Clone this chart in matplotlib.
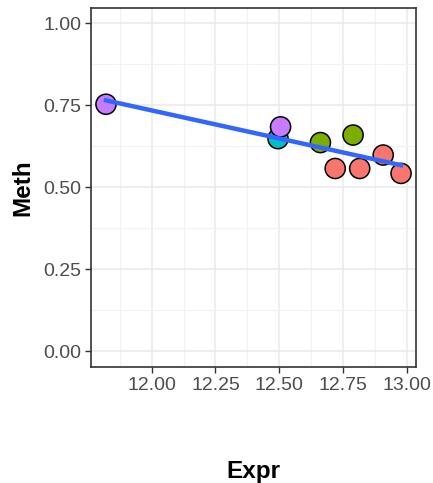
import numpy as np
import matplotlib
matplotlib.use("Agg")
import matplotlib.pyplot as plt
from matplotlib.ticker import MultipleLocator

plt.rcParams["font.family"] = ["Liberation Sans", "DejaVu Sans"]

# valores
expr = [12.495, 11.821, 12.505, 12.661, 12.789, 12.719, 12.815, 12.907, 12.977]
meth = [0.648, 0.753, 0.684, 0.636, 0.659, 0.557, 0.557, 0.598, 0.542]
group = ["c", "d", "d", "b", "b", "a", "a", "a", "a"]
palette = {"a": "#F8766D", "b": "#7CAE00", "c": "#00BFC4", "d": "#C77CFF"}

fig = plt.figure(figsize=(4.33, 4.83), dpi=100)
ax = fig.add_axes([0.21, 0.240, 0.751, 0.743])

# grade estilo theme_bw
ax.set_xlim(11.762, 13.036)
ax.set_ylim(-0.049, 1.046)
ax.xaxis.set_major_locator(MultipleLocator(0.25))
ax.xaxis.set_minor_locator(MultipleLocator(0.125))
ax.yaxis.set_major_locator(MultipleLocator(0.25))
ax.yaxis.set_minor_locator(MultipleLocator(0.125))
ax.grid(which="major", color="#EBEBEB", lw=1.2)
ax.grid(which="minor", color="#F2F2F2", lw=0.8)
ax.set_axisbelow(True)
ax.tick_params(which="minor", length=0)
ax.tick_params(which="major", length=4, width=1, color="#333333",
               labelsize=14, labelcolor="#4D4D4D", pad=3)
for s in ax.spines.values():
    s.set_color("#333333")
    s.set_linewidth(1.2)

ax.scatter(expr, meth, s=210, c=[palette[g] for g in group],
           edgecolors="black", linewidths=1.1, zorder=3)

# regressão linear (geom_smooth method=lm, se=FALSE)
k, b = np.polyfit(expr, meth, 1)
xs = np.array([min(expr), max(expr)])
ax.plot(xs, k * xs + b, color="#3366FF", lw=3.2, zorder=4)

ax.set_xlabel("Expr", fontsize=17.5, fontweight="bold", labelpad=48)
ax.set_ylabel("Meth", fontsize=17.5, fontweight="bold", labelpad=6)

fig.savefig("out.png", dpi=100)
